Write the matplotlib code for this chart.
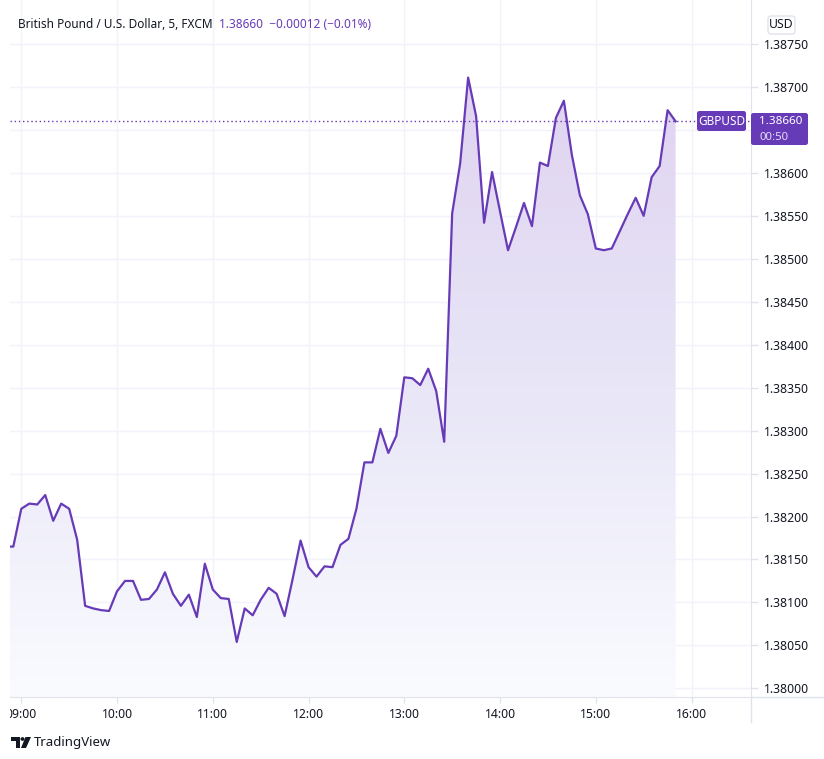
#!/usr/bin/env python
"""GBPUSD 5-minute area chart, TradingView style."""

import numpy as np
import pandas as pd
import matplotlib
matplotlib.use("Agg")
import matplotlib.pyplot as plt
from matplotlib.patches import Rectangle, FancyBboxPatch, Circle, Polygon
from matplotlib.colors import LinearSegmentedColormap

plt.rcParams["font.family"] = ["Noto Sans", "DejaVu Sans"]

# 5-minute closes, 08:50 .. 15:50
start = "08:50"
prices = [
    1.38165, 1.38165, 1.38209, 1.38215, 1.38214, 1.38225, 1.38195, 1.38215,
    1.38209, 1.38173, 1.38096, 1.38093, 1.38091, 1.38090, 1.38113, 1.38125,
    1.38125, 1.38103, 1.38104, 1.38115, 1.38135, 1.38110, 1.38096, 1.38109,
    1.38083, 1.38145, 1.38115, 1.38105, 1.38104, 1.38054, 1.38093, 1.38085,
    1.38103, 1.38117, 1.38110, 1.38084, 1.38127, 1.38172, 1.38141, 1.38130,
    1.38142, 1.38141, 1.38167, 1.38174, 1.38209, 1.38263, 1.38263, 1.38302,
    1.38274, 1.38294, 1.38362, 1.38361, 1.38353, 1.38372, 1.38346, 1.38287,
    1.38553, 1.38611, 1.38711, 1.38666, 1.38542, 1.38601, 1.38555, 1.38510,
    1.38537, 1.38565, 1.38538, 1.38612, 1.38608, 1.38664, 1.38684, 1.38621,
    1.38574, 1.38552, 1.38512, 1.38510, 1.38512, 1.38532, 1.38552, 1.38571,
    1.38550, 1.38595, 1.38608, 1.38673, 1.38660,
]
y_ticks = [1.38000, 1.38050, 1.38100, 1.38150, 1.38200, 1.38250, 1.38300,
           1.38350, 1.38400, 1.38450, 1.38500, 1.38550, 1.38600, 1.38650,
           1.38700, 1.38750]
x_tick_labels = ["09:00", "10:00", "11:00", "12:00", "13:00", "14:00",
                 "15:00", "16:00"]
last_price = 1.38660
change = "\u22120.00012 (\u22120.01%)"

purple = "#673ab7"
text_col = "#131722"
grid_col = "#f0f3fa"
border_col = "#e0e3eb"

# minutes since 09:00
t0 = pd.Timestamp("2021-06-01 09:00")
times = pd.date_range("2021-06-01 " + start, periods=len(prices), freq="5min")
x = ((times - t0).total_seconds() / 60.0).values
y = np.array(prices)

W, H = 824, 759
fig = plt.figure(figsize=(W / 100, H / 100), dpi=100)
L, R, B, T = 10, 751, 697, 0
ax = fig.add_axes([L / W, 1 - B / H, (R - L) / W, (B - T) / H])

# 09:00 at px 21.3, 95.75 px per hour
px_min = 95.75 / 60.0
ax.set_xlim((L - 21.3) / px_min, (R - 21.3) / px_min)
px_val = 85.9 / 0.001
ax.set_ylim(1.38 - (B - 688.3) / px_val, 1.38 + (688.3 - T) / px_val)

# gradient fill under the line
ylo, yhi = ax.get_ylim()
cmap = LinearSegmentedColormap.from_list(
    "area", [(250 / 255, 251 / 255, 1.0), (232 / 255, 230 / 255, 247 / 255),
             (224 / 255, 211 / 255, 240 / 255)])
grad = np.linspace(0, 1, 256).reshape(-1, 1)
img = ax.imshow(grad, extent=[x[0], x[-1], ylo, y.max()], origin="lower",
                aspect="auto", cmap=cmap, zorder=1)
poly = ax.fill_between(x, y, ylo, color="none", lw=0)
clip = poly.get_paths()[0]
img.set_clip_path(clip, transform=ax.transData)

ax.plot(x, y, color=purple, lw=1.6, zorder=3)
ax.axhline(last_price, color=purple, lw=1, ls=(0, (1, 2)), zorder=2)

# grid
hours = np.arange(len(x_tick_labels)) * 60
ax.set_xticks(hours)
ax.set_xticklabels(x_tick_labels)
ax.set_yticks(y_ticks)
# the label nearest the last price sits under the price box
ax.set_yticklabels(["" if abs(v - last_price) < 0.0002 else "%.5f" % v
                    for v in y_ticks])
ax.grid(True, color=grid_col, lw=1, zorder=0)
ax.set_axisbelow(True)
ax.yaxis.tick_right()
ax.tick_params(axis="y", length=5, width=1, color=border_col, pad=4,
               labelsize=8.8, labelcolor=text_col)
ax.tick_params(axis="x", length=4, width=1, color=border_col, pad=4,
               labelsize=8.8, labelcolor=text_col)
for side in ["top", "left"]:
    ax.spines[side].set_visible(False)
ax.spines["right"].set_color(border_col)
ax.spines["bottom"].set_color(border_col)

# axis lines extending into the scale areas
fig.add_artist(plt.Line2D([R / W, R / W], [1 - B / H, 1 - 722 / H],
                          color=border_col, lw=1))
fig.add_artist(plt.Line2D([R / W, 1], [1 - B / H, 1 - B / H],
                          color=border_col, lw=1))
# hide the clipped part of the first time label
fig.add_artist(Rectangle((0, 1 - 725 / H), L / W - 0.0002, 28 / H,
                         facecolor="white", edgecolor="none", zorder=5))

# header
fig.text(18 / W, 1 - 24 / H, "British Pound / U.S. Dollar, 5, FXCM",
         fontsize=8.5, color=text_col, va="center", ha="left")
fig.text(219 / W, 1 - 24 / H, "%.5f  %s" % (last_price, change),
         fontsize=8.5, color=purple, va="center", ha="left")

# USD box
fig.add_artist(FancyBboxPatch((768 / W, 1 - 34 / H), 27 / W, 18 / H,
                              boxstyle="round,pad=0,rounding_size=0.004",
                              facecolor="white", edgecolor=border_col, lw=1))
fig.text(781.5 / W, 1 - 25 / H, "USD", fontsize=8.8, color=text_col,
         ha="center", va="center")

# last price labels
fig.add_artist(FancyBboxPatch((697 / W, 1 - 131 / H), 49 / W, 20 / H,
                              boxstyle="round,pad=0,rounding_size=0.003",
                              facecolor=purple, edgecolor="none"))
fig.text(721.5 / W, 1 - 121.5 / H, "GBPUSD", fontsize=8.5, color="white",
         ha="center", va="center")
fig.add_artist(FancyBboxPatch((751 / W, 1 - 145 / H), 57 / W, 32 / H,
                              boxstyle="round,pad=0,rounding_size=0.003",
                              facecolor=purple, edgecolor="none"))
fig.text(759 / W, 1 - 121 / H, "%.5f" % last_price, fontsize=8.4,
         color="white", ha="left", va="center")
fig.text(759 / W, 1 - 138 / H, "00:50", fontsize=8.2, color="#e6dcf5",
         ha="left", va="center")

# TradingView mark
def px(xp, yp):
    return (xp / W, 1 - yp / H)

fig.add_artist(Polygon([px(11, 737), px(20, 737), px(20, 748), px(16, 748),
                        px(16, 741), px(11, 741)], closed=True,
                       facecolor=text_col, edgecolor="none"))
fig.add_artist(Circle(px(22.5, 739), 2.0 / W, facecolor=text_col,
                      edgecolor="none"))
fig.add_artist(Polygon([px(25.5, 737), px(31, 737), px(26, 748), px(21, 748)],
                       closed=True, facecolor=text_col, edgecolor="none"))
fig.text(34 / W, 1 - 742.5 / H, "TradingView", fontsize=9.5, color=text_col,
         ha="left", va="center")

fig.savefig("out.png", dpi=100)
